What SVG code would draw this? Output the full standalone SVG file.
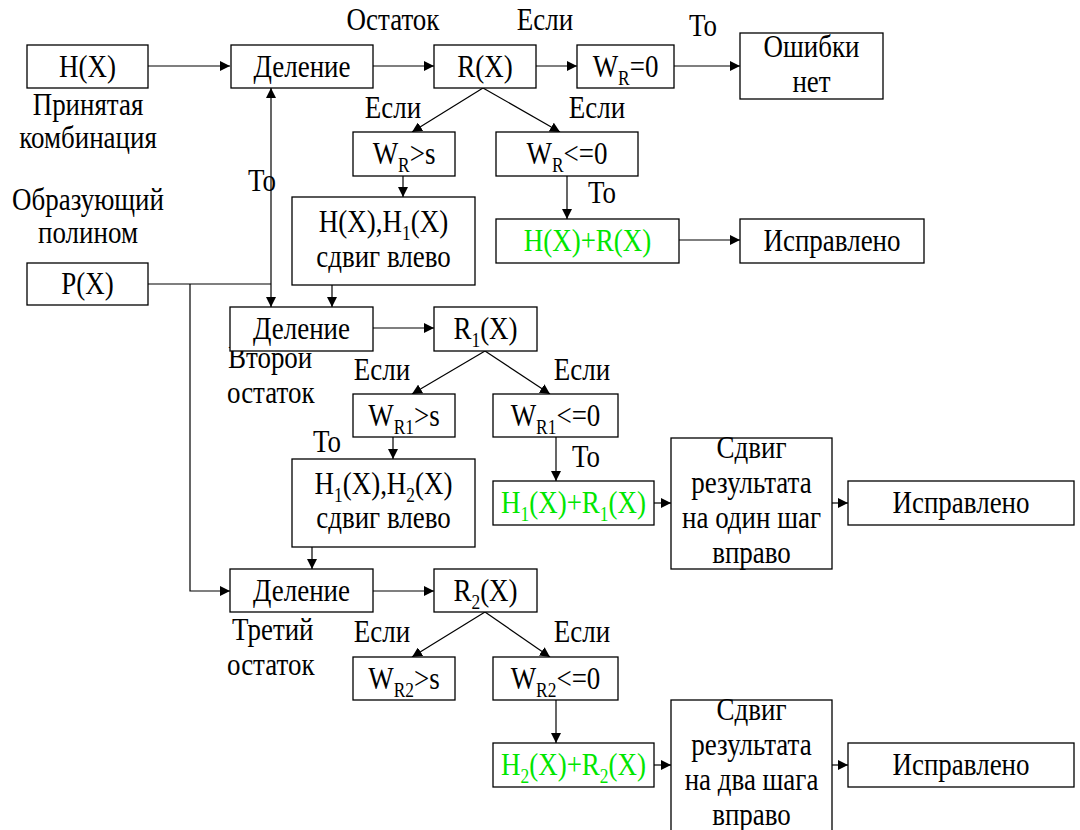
<svg xmlns="http://www.w3.org/2000/svg" width="1080" height="830" viewBox="0 0 1080 830">
<style>
text{font-family:"Liberation Serif","Times New Roman",serif;font-size:31px;fill:#000}
.c{text-anchor:middle}
.g{fill:#00e600}
.b{fill:#fff;stroke:#000;stroke-width:1.3}
.l{fill:none;stroke:#000;stroke-width:1.2}
.s{font-size:20px}
</style>
<defs>
<marker id="a" viewBox="0 0 10 10" refX="10" refY="5" markerWidth="10" markerHeight="10" markerUnits="userSpaceOnUse" orient="auto">
<path d="M0,0 L10,5 L0,10 Z" fill="#000"/>
</marker>
</defs>
<rect width="1080" height="830" fill="#fff"/>
<g id="connectors">
<path class="l" d="M148,66 H230" marker-end="url(#a)"/>
<path class="l" d="M373,66 H434" marker-end="url(#a)"/>
<path class="l" d="M536,66 H577" marker-end="url(#a)"/>
<path class="l" d="M674,66 H740" marker-end="url(#a)"/>
<path class="l" d="M483,88 L412,132" marker-end="url(#a)"/>
<path class="l" d="M483,88 L560,132" marker-end="url(#a)"/>
<path class="l" d="M403,176 V197" marker-end="url(#a)"/>
<path class="l" d="M567,176 V219" marker-end="url(#a)"/>
<path class="l" d="M679,240 H740" marker-end="url(#a)"/>
<path class="l" d="M148,284 H271"/>
<path class="l" d="M271,200 V88" marker-end="url(#a)"/>
<path class="l" d="M271,200 V307" marker-end="url(#a)"/>
<path class="l" d="M332,285 V307" marker-end="url(#a)"/>
<path class="l" d="M190,284 V591 H230" marker-end="url(#a)"/>
<path class="l" d="M373,328 H434" marker-end="url(#a)"/>
<path class="l" d="M485,351 L412,394" marker-end="url(#a)"/>
<path class="l" d="M485,351 L550,394" marker-end="url(#a)"/>
<path class="l" d="M393,437 V459" marker-end="url(#a)"/>
<path class="l" d="M556,437 V481" marker-end="url(#a)"/>
<path class="l" d="M654,503 H671" marker-end="url(#a)"/>
<path class="l" d="M832,503 H848" marker-end="url(#a)"/>
<path class="l" d="M312,547 V569" marker-end="url(#a)"/>
<path class="l" d="M373,591 H434" marker-end="url(#a)"/>
<path class="l" d="M485,612 L412,657" marker-end="url(#a)"/>
<path class="l" d="M485,612 L550,657" marker-end="url(#a)"/>
<path class="l" d="M556,700 V743" marker-end="url(#a)"/>
<path class="l" d="M654,765 H671" marker-end="url(#a)"/>
<path class="l" d="M832,765 H848" marker-end="url(#a)"/>
</g>
<g id="labels">
<text class="c" transform="translate(393,30) scale(0.87,1)">Остаток</text>
<text class="c" transform="translate(545,30) scale(0.87,1)">Если</text>
<text class="c" transform="translate(703,36) scale(0.87,1)">То</text>
<text class="c" transform="translate(88,115) scale(0.87,1)">Принятая</text>
<text class="c" transform="translate(88,148) scale(0.87,1)">комбинация</text>
<text class="c" transform="translate(88,210) scale(0.87,1)">Образующий</text>
<text class="c" transform="translate(88,243) scale(0.87,1)">полином</text>
<text class="c" transform="translate(393,118) scale(0.87,1)">Если</text>
<text class="c" transform="translate(597,118) scale(0.87,1)">Если</text>
<text class="c" transform="translate(262,191) scale(0.87,1)">То</text>
<text class="c" transform="translate(602,203) scale(0.87,1)">То</text>
<text transform="translate(228,368) scale(0.87,1)">Второй</text>
<text transform="translate(227,403) scale(0.87,1)">остаток</text>
<text class="c" transform="translate(382,380) scale(0.87,1)">Если</text>
<text class="c" transform="translate(582,380) scale(0.87,1)">Если</text>
<text class="c" transform="translate(327,452) scale(0.87,1)">То</text>
<text class="c" transform="translate(586,467) scale(0.87,1)">То</text>
<text transform="translate(232,640) scale(0.87,1)">Третий</text>
<text transform="translate(227,675) scale(0.87,1)">остаток</text>
<text class="c" transform="translate(382,642) scale(0.87,1)">Если</text>
<text class="c" transform="translate(582,642) scale(0.87,1)">Если</text>
</g>
<g id="n-hx"><rect class="b" x="27" y="45" width="121" height="43"/><text class="c" transform="translate(87.5,77) scale(0.87,1)">H(X)</text></g>
<g id="n-div1"><rect class="b" x="231" y="45" width="142" height="43"/><text class="c" transform="translate(302,77) scale(0.87,1)">Деление</text></g>
<g id="n-rx"><rect class="b" x="434" y="45" width="102" height="43"/><text class="c" transform="translate(485,77) scale(0.87,1)">R(X)</text></g>
<g id="n-wr0"><rect class="b" x="577" y="45" width="97" height="43"/><text class="c" transform="translate(625.5,77) scale(0.87,1)">W<tspan class="s" dy="8">R</tspan><tspan dy="-8">=0</tspan></text></g>
<g id="n-noerr"><rect class="b" x="740" y="33" width="143" height="66"/><text class="c" transform="translate(811.5,57) scale(0.87,1)">Ошибки</text><text class="c" transform="translate(811.5,92) scale(0.87,1)">нет</text></g>
<g id="n-wrs"><rect class="b" x="353" y="132" width="102" height="44"/><text class="c" transform="translate(404,164) scale(0.87,1)">W<tspan class="s" dy="8">R</tspan><tspan dy="-8">&gt;s</tspan></text></g>
<g id="n-wrle"><rect class="b" x="496" y="132" width="142" height="44"/><text class="c" transform="translate(567,164) scale(0.87,1)">W<tspan class="s" dy="8">R</tspan><tspan dy="-8">&lt;=0</tspan></text></g>
<g id="n-shift1"><rect class="b" x="292" y="197" width="183" height="88"/><text class="c" transform="translate(383.5,232) scale(0.87,1)">H(X),H<tspan class="s" dy="8">1</tspan><tspan dy="-8">(X)</tspan></text><text class="c" transform="translate(383.5,267) scale(0.87,1)">сдвиг влево</text></g>
<g id="n-sum0"><rect class="b" x="496" y="219" width="183" height="44"/><text class="c g" transform="translate(587.5,251) scale(0.87,1)">H(X)+R(X)</text></g>
<g id="n-ok1"><rect class="b" x="740" y="219" width="184" height="44"/><text class="c" transform="translate(832,251) scale(0.87,1)">Исправлено</text></g>
<g id="n-px"><rect class="b" x="27" y="263" width="121" height="42"/><text class="c" transform="translate(87.5,294) scale(0.87,1)">P(X)</text></g>
<g id="n-div2"><rect class="b" x="230" y="307" width="143" height="44"/><text class="c" transform="translate(301.5,339) scale(0.87,1)">Деление</text></g>
<g id="n-r1"><rect class="b" x="434" y="307" width="103" height="44"/><text class="c" transform="translate(485.5,339) scale(0.87,1)">R<tspan class="s" dy="8">1</tspan><tspan dy="-8">(X)</tspan></text></g>
<g id="n-wr1s"><rect class="b" x="353" y="394" width="102" height="43"/><text class="c" transform="translate(404,426) scale(0.87,1)">W<tspan class="s" dy="8">R1</tspan><tspan dy="-8">&gt;s</tspan></text></g>
<g id="n-wr1le"><rect class="b" x="493" y="394" width="125" height="43"/><text class="c" transform="translate(555.5,426) scale(0.87,1)">W<tspan class="s" dy="8">R1</tspan><tspan dy="-8">&lt;=0</tspan></text></g>
<g id="n-shift2"><rect class="b" x="292" y="459" width="183" height="88"/><text class="c" transform="translate(383.5,494) scale(0.87,1)">H<tspan class="s" dy="8">1</tspan><tspan dy="-8">(X),H</tspan><tspan class="s" dy="8">2</tspan><tspan dy="-8">(X)</tspan></text><text class="c" transform="translate(383.5,528) scale(0.87,1)">сдвиг влево</text></g>
<g id="n-sum1"><rect class="b" x="493" y="481" width="161" height="44"/><text class="c g" transform="translate(573.5,513) scale(0.87,1)">H<tspan class="s" dy="8">1</tspan><tspan dy="-8">(X)+R</tspan><tspan class="s" dy="8">1</tspan><tspan dy="-8">(X)</tspan></text></g>
<g id="n-rs1"><rect class="b" x="671" y="438" width="161" height="131"/><text class="c" transform="translate(751.5,458) scale(0.87,1)">Сдвиг</text><text class="c" transform="translate(751.5,493) scale(0.87,1)">результата</text><text class="c" transform="translate(751.5,528) scale(0.87,1)">на один шаг</text><text class="c" transform="translate(751.5,563) scale(0.87,1)">вправо</text></g>
<g id="n-ok2"><rect class="b" x="848" y="481" width="226" height="44"/><text class="c" transform="translate(961,513) scale(0.87,1)">Исправлено</text></g>
<g id="n-div3"><rect class="b" x="230" y="569" width="143" height="43"/><text class="c" transform="translate(301.5,601) scale(0.87,1)">Деление</text></g>
<g id="n-r2"><rect class="b" x="434" y="569" width="103" height="43"/><text class="c" transform="translate(485.5,601) scale(0.87,1)">R<tspan class="s" dy="8">2</tspan><tspan dy="-8">(X)</tspan></text></g>
<g id="n-wr2s"><rect class="b" x="353" y="657" width="102" height="43"/><text class="c" transform="translate(404,689) scale(0.87,1)">W<tspan class="s" dy="8">R2</tspan><tspan dy="-8">&gt;s</tspan></text></g>
<g id="n-wr2le"><rect class="b" x="493" y="657" width="125" height="43"/><text class="c" transform="translate(555.5,689) scale(0.87,1)">W<tspan class="s" dy="8">R2</tspan><tspan dy="-8">&lt;=0</tspan></text></g>
<g id="n-sum2"><rect class="b" x="493" y="743" width="161" height="44"/><text class="c g" transform="translate(573.5,775) scale(0.87,1)">H<tspan class="s" dy="8">2</tspan><tspan dy="-8">(X)+R</tspan><tspan class="s" dy="8">2</tspan><tspan dy="-8">(X)</tspan></text></g>
<g id="n-rs2"><rect class="b" x="671" y="700" width="161" height="140"/><text class="c" transform="translate(751.5,720) scale(0.87,1)">Сдвиг</text><text class="c" transform="translate(751.5,755) scale(0.87,1)">результата</text><text class="c" transform="translate(751.5,790) scale(0.87,1)">на два шага</text><text class="c" transform="translate(751.5,825) scale(0.87,1)">вправо</text></g>
<g id="n-ok3"><rect class="b" x="848" y="743" width="226" height="44"/><text class="c" transform="translate(961,775) scale(0.87,1)">Исправлено</text></g>
</svg>
